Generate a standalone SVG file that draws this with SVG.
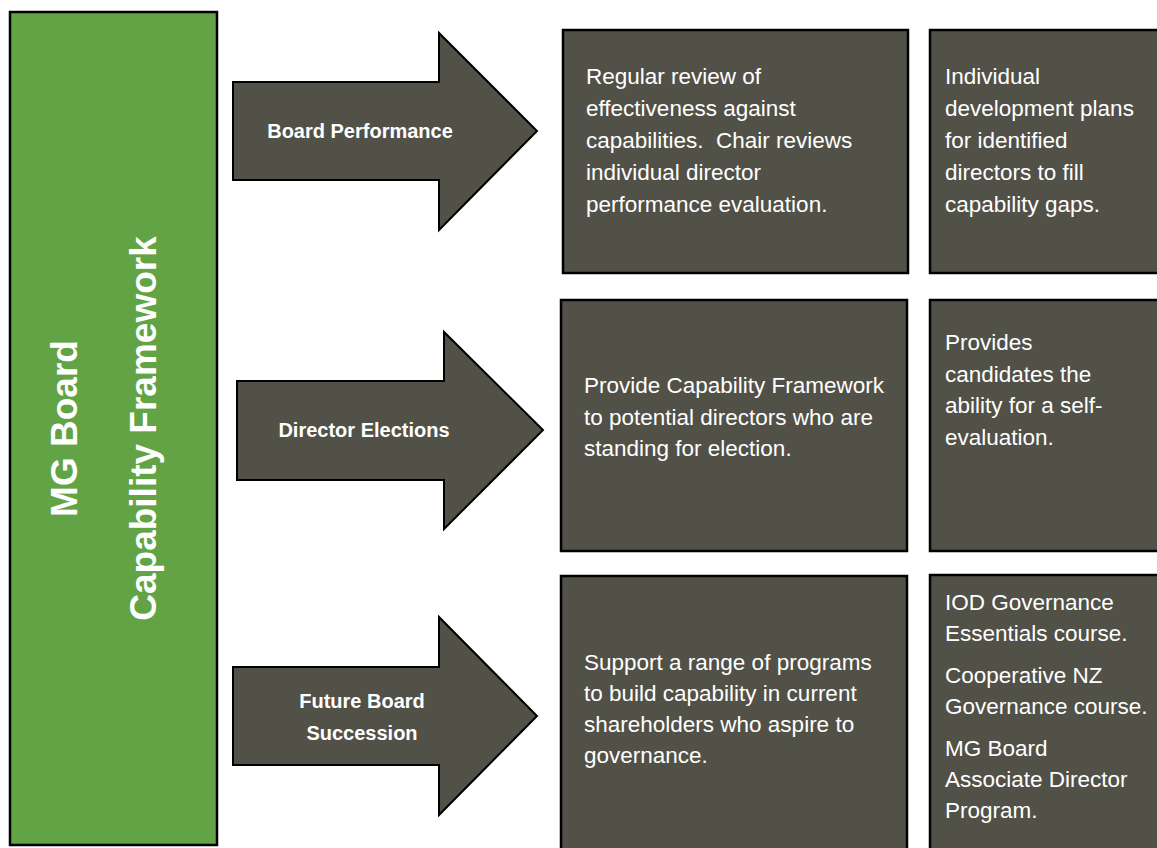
<svg xmlns="http://www.w3.org/2000/svg" width="1157" height="848" viewBox="0 0 1157 848">
<style>
.bar{fill:#62A445;stroke:#000;stroke-width:2.5}
.box{fill:#525148;stroke:#000;stroke-width:2.5}
.arrow{fill:#525148;stroke:#000;stroke-width:2}
.title{font-family:"Liberation Sans",Arial,sans-serif;font-weight:bold;font-size:37px;fill:#fff;text-anchor:middle}
.lbl{font-family:"Liberation Sans",Arial,sans-serif;font-weight:bold;font-size:20px;fill:#fff;text-anchor:middle}
.body{font-family:"Liberation Sans",Arial,sans-serif;font-size:22.5px;fill:#fff;white-space:pre}
</style>
<rect width="1157" height="848" fill="#fff"/>
<g id="framework">
<rect class="bar" x="10" y="12" width="207" height="833"/>
<text class="title" transform="translate(77,428.5) rotate(-90)">MG Board</text>
<text class="title" transform="translate(156,428.5) rotate(-90)">Capability Framework</text>
</g>
<g id="connectors">
<g id="arrow-board-performance">
<polygon class="arrow" points="233,82 439,82 439,33 537,131 439,230 439,180 233,180"/>
<text class="lbl" x="360" y="138">Board Performance</text>
</g>
<g id="arrow-director-elections">
<polygon class="arrow" points="237,381 444,381 444,332 543,430 444,529 444,480 237,480"/>
<text class="lbl" x="364" y="437">Director Elections</text>
</g>
<g id="arrow-future-board">
<polygon class="arrow" points="233,667 439,667 439,617 537,716 439,815 439,765 233,765"/>
<text class="lbl" x="362" y="708">Future Board</text>
<text class="lbl" x="362" y="740">Succession</text>
</g>
</g>
<g id="box-review">
<rect class="box" x="563" y="30" width="345" height="243"/>
<text class="body" x="586" y="84">Regular review of</text>
<text class="body" x="586" y="116">effectiveness against</text>
<text class="body" x="586" y="148" xml:space="preserve">capabilities.  Chair reviews</text>
<text class="body" x="586" y="180">individual director</text>
<text class="body" x="586" y="212">performance evaluation.</text>
</g>
<g id="box-development">
<rect class="box" x="930" y="30" width="232" height="243"/>
<text class="body" x="945" y="84">Individual</text>
<text class="body" x="945" y="116">development plans</text>
<text class="body" x="945" y="148">for identified</text>
<text class="body" x="945" y="180">directors to fill</text>
<text class="body" x="945" y="212">capability gaps.</text>
</g>
<g id="box-provide">
<rect class="box" x="561" y="300" width="346" height="251"/>
<text class="body" x="584" y="393">Provide Capability Framework</text>
<text class="body" x="584" y="425">to potential directors who are</text>
<text class="body" x="584" y="456">standing for election.</text>
</g>
<g id="box-self-eval">
<rect class="box" x="930" y="300" width="232" height="251"/>
<text class="body" x="945" y="350">Provides</text>
<text class="body" x="945" y="382">candidates the</text>
<text class="body" x="945" y="413">ability for a self-</text>
<text class="body" x="945" y="445">evaluation.</text>
</g>
<g id="box-support">
<rect class="box" x="561" y="576" width="346" height="280"/>
<text class="body" x="584" y="670">Support a range of programs</text>
<text class="body" x="584" y="701">to build capability in current</text>
<text class="body" x="584" y="732">shareholders who aspire to</text>
<text class="body" x="584" y="763">governance.</text>
</g>
<g id="box-courses">
<rect class="box" x="930" y="575" width="232" height="281"/>
<text class="body" x="945" y="610">IOD Governance</text>
<text class="body" x="945" y="641">Essentials course.</text>
<text class="body" x="945" y="683">Cooperative NZ</text>
<text class="body" x="945" y="714">Governance course.</text>
<text class="body" x="945" y="756">MG Board</text>
<text class="body" x="945" y="787">Associate Director</text>
<text class="body" x="945" y="818">Program.</text>
</g>
</svg>
